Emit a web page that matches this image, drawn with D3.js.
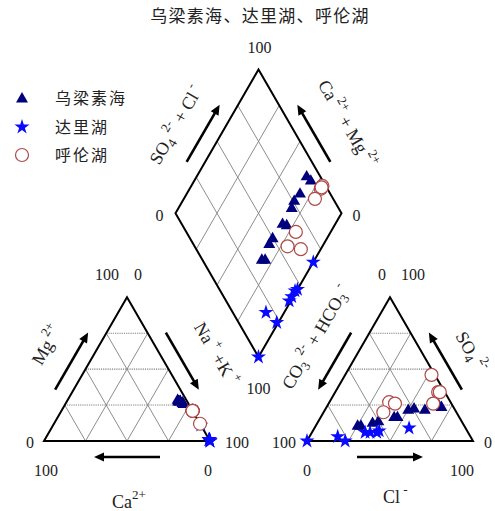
<!DOCTYPE html>
<html>
<head>
<meta charset="utf-8">
<script src="https://cdn.jsdelivr.net/npm/d3@7"></script>
<style>
  html, body { margin: 0; padding: 0; background: #fff; }
  svg { display: block; }
  .num { font-family: "Liberation Serif", "Times New Roman", serif; font-size: 16px; fill: #222; }
  .ion { font-family: "Liberation Serif", "Times New Roman", serif; font-size: 18px; fill: #222; }
  .cjk { font-family: "Noto Sans CJK SC", sans-serif; fill: #222; }
</style>
</head>
<body>
<svg id="chart" width="495" height="511"></svg>
<script>
// Piper diagram of three lakes (milliequivalent percentages)
const title = "乌梁素海、达里湖、呼伦湖";
const lakes = ["乌梁素海", "达里湖", "呼伦湖"];

// columns: Ca, Mg, Na+K | CO3+HCO3, SO4, Cl
const wuliangsuhai = [
  [4, 28, 68, 64, 11, 25],
  [3, 27, 70, 62, 11, 27],
  [5, 28, 67, 54, 13, 33],
  [5, 28, 67, 50, 14, 36],
  [4, 28, 68, 39, 17, 44],
  [3, 26, 71, 37, 17, 46],
  [4, 28, 68, 28, 22, 50],
  [5, 28, 67, 24, 23, 53],
  [4, 28, 68, 18, 22, 60],
  [5, 29, 66, 8, 26, 66],
  [3, 27, 70, 7, 24, 69]
];
const dalihu = [
  [0, 0, 100, 100, 0, 0],
  [0, 11, 89, 80, 3, 17],
  [0, 1, 99, 77, 0, 23],
  [0, 1, 99, 62, 6, 32],
  [0, 1, 99, 59, 6, 35],
  [0, 1, 99, 55, 6, 39],
  [0, 0, 100, 53, 7, 40],
  [0, 0, 100, 34, 9, 57]
];
const hulunhu = [
  [0, 21, 79, 2, 46, 52],
  [0, 21, 79, 4, 34, 62],
  [0, 21, 79, 3, 34, 63],
  [0, 21, 79, 11, 26, 63],
  [0, 12, 88, 37, 27, 36],
  [0, 21, 79, 34, 26, 40],
  [0, 21, 79, 44, 20, 36]
];
const gridSteps = [25, 50, 75];
const tickLabels = ["0", "100"];

const svg = d3.select("#chart");

// ---- geometry ----
const side = 166;
const hgt = side * Math.sqrt(3) / 2;
const baseY = 441;
const catX0 = 44;                       // cation triangle, left corner
const anX0 = 307;                       // anion triangle, left corner
const gap = anX0 - (catX0 + side);
const dBottom = [(catX0 + side + anX0) / 2, baseY - gap / 2 * Math.sqrt(3)];

const along = d3.scaleLinear().domain([0, 100]).range([0, side]);
const up = d3.scaleLinear().domain([0, 100]).range([0, hgt]);

const cation = (ca, mg, na) => [catX0 + along(na) + along(mg) / 2, baseY - up(mg)];
const anion = (co3, so4, cl) => [anX0 + along(cl) + along(so4) / 2, baseY - up(so4)];
const diamond = (caMg, so4Cl) => [dBottom[0] + (along(so4Cl) - along(caMg)) / 2,
                                  dBottom[1] - up(so4Cl) - up(caMg)];

const line = d3.line();

// ---- grids ----
const grid = svg.append("g");
function gridLine(p, q, dotted) {
  grid.append("path").attr("d", line([p, q]))
    .attr("stroke", "#808080")
    .attr("stroke-width", dotted ? 1.1 : 0.9)
    .attr("stroke-dasharray", dotted ? "1.2,1" : null)
    .attr("fill", "none");
}
gridSteps.forEach(v => {
  // cation triangle
  gridLine(cation(100 - v, v, 0), cation(0, v, 100 - v), true);
  gridLine(cation(100 - v, 0, v), cation(0, 100 - v, v), false);
  gridLine(cation(v, 0, 100 - v), cation(v, 100 - v, 0), false);
  // anion triangle
  gridLine(anion(100 - v, v, 0), anion(0, v, 100 - v), true);
  gridLine(anion(100 - v, 0, v), anion(0, 100 - v, v), false);
  gridLine(anion(v, 0, 100 - v), anion(v, 100 - v, 0), false);
  // diamond
  gridLine(diamond(v, 0), diamond(v, 100), false);
  gridLine(diamond(0, v), diamond(100, v), false);
});

// ---- outlines ----
const catPts = [cation(100, 0, 0), cation(0, 0, 100), cation(0, 100, 0)];
const anPts = [anion(100, 0, 0), anion(0, 0, 100), anion(0, 100, 0)];
// bottom, left, top, right corners of the diamond
const diaPts = [diamond(0, 0), diamond(100, 0), diamond(100, 100), diamond(0, 100)];
[catPts, anPts, diaPts].forEach(pts => {
  svg.append("path").attr("d", line(pts) + "Z")
    .attr("fill", "none").attr("stroke", "#000").attr("stroke-width", 2)
    .attr("stroke-linejoin", "miter");
});

// ---- direction arrows beside edges ----
const centroid = pts => [d3.mean(pts, p => p[0]), d3.mean(pts, p => p[1])];
function edgeArrow(a, b, pts) {
  const c = centroid(pts);
  const len = Math.hypot(b[0] - a[0], b[1] - a[1]);
  const d = [(b[0] - a[0]) / len, (b[1] - a[1]) / len];
  let n = [-d[1], d[0]];
  const m = [(a[0] + b[0]) / 2, (a[1] + b[1]) / 2];
  if (n[0] * (m[0] - c[0]) + n[1] * (m[1] - c[1]) < 0) n = [-n[0], -n[1]];
  const off = 16, L = 66, hl = 10, hw = 9;
  const mid = [m[0] + n[0] * off, m[1] + n[1] * off];
  const s0 = [mid[0] - d[0] * L / 2, mid[1] - d[1] * L / 2];
  const tip = [mid[0] + d[0] * L / 2, mid[1] + d[1] * L / 2];
  const hb = [tip[0] - d[0] * hl, tip[1] - d[1] * hl];
  svg.append("path").attr("d", line([s0, [hb[0] + d[0], hb[1] + d[1]]]))
    .attr("stroke", "#000").attr("stroke-width", 2.6).attr("fill", "none");
  svg.append("path")
    .attr("d", line([tip, [hb[0] + n[0] * hw / 2, hb[1] + n[1] * hw / 2],
                     [hb[0] - n[0] * hw / 2, hb[1] - n[1] * hw / 2]]) + "Z")
    .attr("fill", "#000");
}
// cations: Mg up the left side, Na+K down the right side, Ca leftward along the base
edgeArrow(catPts[0], catPts[2], catPts);
edgeArrow(catPts[2], catPts[1], catPts);
edgeArrow(catPts[1], catPts[0], catPts);
// anions: CO3+HCO3 down the left side, SO4 up the right side, Cl rightward
edgeArrow(anPts[2], anPts[0], anPts);
edgeArrow(anPts[1], anPts[2], anPts);
edgeArrow(anPts[0], anPts[1], anPts);
// diamond: SO4+Cl and Ca+Mg rising to the top corner
edgeArrow(diaPts[1], diaPts[2], diaPts);
edgeArrow(diaPts[3], diaPts[2], diaPts);

// ---- numeric end labels ----
function num(x, y, t) {
  svg.append("text").attr("class", "num").attr("x", x).attr("y", y)
    .attr("text-anchor", "middle").text(t);
}
const [t0, t100] = tickLabels;
// cation triangle
num(catPts[2][0] - 20, catPts[2][1] - 17, t100);
num(catPts[2][0] + 11, catPts[2][1] - 17, t0);
num(catPts[0][0] - 14, catPts[0][1] + 7, t0);
num(catPts[1][0] + 27, catPts[1][1] + 7, t100);
num(catPts[0][0] + 2, catPts[0][1] + 35, t100);
num(catPts[1][0] - 2, catPts[1][1] + 35, t0);
// anion triangle
num(anPts[2][0] - 8, anPts[2][1] - 17, t0);
num(anPts[2][0] + 23, anPts[2][1] - 17, t100);
num(anPts[0][0] - 23, anPts[0][1] + 7, t100);
num(anPts[1][0] + 15, anPts[1][1] + 7, t0);
num(anPts[0][0], anPts[0][1] + 35, t0);
num(anPts[1][0] - 11, anPts[1][1] + 35, t100);
// diamond
num(diaPts[2][0] + 1, diaPts[2][1] - 16, t100);
num(diaPts[1][0] - 16, diaPts[1][1] + 8, t0);
num(diaPts[3][0] + 15, diaPts[3][1] + 8, t0);
num(diaPts[0][0], diaPts[0][1] + 37, t100);

// ---- ion labels (runs of [text, shift] where shift: 0 base, 1 sup, -1 sub) ----
function ionLabel(x, y, angle, runs, anchor) {
  const g = svg.append("g").attr("transform", `translate(${x},${y}) rotate(${angle})`);
  const t = g.append("text").attr("class", "ion").attr("text-anchor", anchor || "middle");
  let level = 0;
  runs.forEach(([s, k]) => {
    const target = k === 1 ? -9 : k === -1 ? 4 : 0;
    t.append("tspan").attr("dy", target - level)
      .style("font-size", k === 0 ? "18px" : "13px").text(s);
    level = target;
  });
}
ionLabel(52, 348, -60, [["Mg", 0], [" 2+", 1]]);
ionLabel(211, 357, 60, [["Na", 0], [" +", 1], [" +K", 0], [" +", 1]]);
ionLabel(112, 508, 0, [["Ca", 0], ["2+", 1]], "start");
ionLabel(321, 340, -60, [["CO", 0], ["3", -1], [" 2-", 1], [" + HCO", 0], ["3", -1], [" -", 1]]);
ionLabel(466, 355, 60, [["SO", 0], ["4", -1], [" 2-", 1]]);
ionLabel(383, 503, 0, [["Cl", 0], [" -", 1]], "start");
ionLabel(181, 128, -60, [["SO", 0], ["4", -1], [" 2-", 1], [" + Cl", 0], [" -", 1]]);
ionLabel(342, 127, 60, [["Ca", 0], [" 2+", 1], [" + Mg", 0], [" 2+", 1]]);

// ---- samples ----
const styles = [
  { sym: d3.symbolTriangle, size: 62, fill: "#00007f" },
  { sym: d3.symbolStar, size: 70, fill: "#0a0aff" },
  { sym: null, r: 6.5, fill: "#fff", stroke: "#b04848" }
];
function mark(g, p, st) {
  if (st.sym) {
    g.append("path").attr("d", d3.symbol(st.sym, st.size)())
      .attr("transform", `translate(${p[0]},${p[1] + (st.sym === d3.symbolTriangle ? 1 : 0)})`)
      .attr("fill", st.fill);
  } else {
    g.append("circle").attr("cx", p[0]).attr("cy", p[1]).attr("r", st.r)
      .attr("fill", st.fill).attr("stroke", st.stroke).attr("stroke-width", 1.2);
  }
}
const marks = svg.append("g");
[wuliangsuhai, dalihu, hulunhu].forEach((rows, i) => {
  rows.forEach(([ca, mg, na, co3, so4, cl]) => {
    mark(marks, cation(ca, mg, na), styles[i]);
    mark(marks, anion(co3, so4, cl), styles[i]);
    mark(marks, diamond(ca + mg, so4 + cl), styles[i]);
  });
});

// ---- legend ----
const legendY = [98, 127, 155];
lakes.forEach((name, i) => {
  mark(svg, [22, legendY[i]], styles[i]);
  svg.append("text").attr("class", "cjk").attr("x", 55).attr("y", legendY[i] + 6)
    .style("font-size", "16px").style("letter-spacing", "2px").text(name);
});

// ---- title ----
svg.append("text").attr("class", "cjk").attr("x", 260).attr("y", 22)
  .attr("text-anchor", "middle").style("font-size", "17px")
  .style("letter-spacing", "1.3px").text(title);
</script>
</body>
</html>
